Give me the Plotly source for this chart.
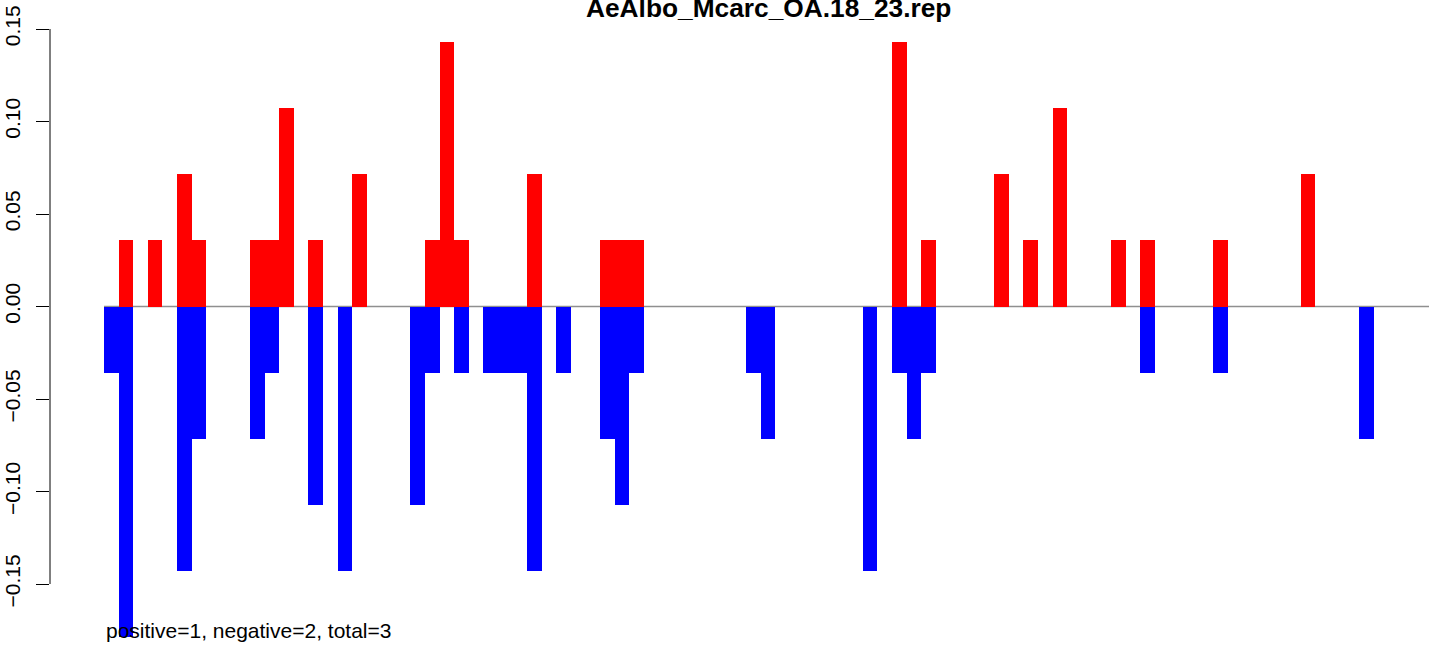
import plotly.graph_objects as go

# ---- data ----
bins = list(range(91))
positive = [
    0, 0.0357, 0, 0.0357, 0, 0.0714, 0.0357, 0, 0, 0,
    0.0357, 0.0357, 0.1071, 0, 0.0357, 0, 0, 0.0714, 0, 0,
    0, 0, 0.0357, 0.1429, 0.0357, 0, 0, 0, 0, 0.0714,
    0, 0, 0, 0, 0.0357, 0.0357, 0.0357, 0, 0, 0,
    0, 0, 0, 0, 0, 0, 0, 0, 0, 0,
    0, 0, 0, 0, 0.1429, 0, 0.0357, 0, 0, 0,
    0, 0.0714, 0, 0.0357, 0, 0.1071, 0, 0, 0, 0.0357,
    0, 0.0357, 0, 0, 0, 0, 0.0357, 0, 0, 0,
    0, 0, 0.0714, 0, 0, 0, 0, 0, 0, 0,
    0,
]
negative = [
    -0.0357, -0.1786, 0, 0, 0, -0.1429, -0.0714, 0, 0, 0,
    -0.0714, -0.0357, 0, 0, -0.1071, 0, -0.1429, 0, 0, 0,
    0, -0.1071, -0.0357, 0, -0.0357, 0, -0.0357, -0.0357, -0.0357, -0.1429,
    0, -0.0357, 0, 0, -0.0714, -0.1071, -0.0357, 0, 0, 0,
    0, 0, 0, 0, -0.0357, -0.0714, 0, 0, 0, 0,
    0, 0, -0.1429, 0, -0.0357, -0.0714, -0.0357, 0, 0, 0,
    0, 0, 0, 0, 0, 0, 0, 0, 0, 0,
    0, -0.0357, 0, 0, 0, 0, -0.0357, 0, 0, 0,
    0, 0, 0, 0, 0, 0, -0.0714, 0, 0, 0,
    0,
]
tick_values = [-0.15, -0.10, -0.05, 0.00, 0.05, 0.10, 0.15]
tick_labels = ["\u22120.15", "\u22120.10", "\u22120.05", "0.00", "0.05", "0.10", "0.15"]
title_text = "AeAlbo_Mcarc_OA.18_23.rep"
footer_text = "positive=1, negative=2, total=3"

FONT = "Liberation Sans, Arial, Helvetica, sans-serif"

fig = go.Figure()
fig.add_trace(go.Bar(x=bins, y=positive, width=1, marker=dict(color="#FF0000", line=dict(width=0)),
                     showlegend=False, hoverinfo="x+y"))
fig.add_trace(go.Bar(x=bins, y=negative, width=1, marker=dict(color="#0000FF", line=dict(width=0)),
                     showlegend=False, hoverinfo="x+y"))

# zero reference line (under bars)
fig.add_shape(type="line", xref="x", yref="y", x0=bins[0] - 0.5, x1=bins[-1] + 0.5, y0=0, y1=0,
              line=dict(color="#8F8F8F", width=1.3), layer="below")
# y axis line spanning first to last tick (R style)
fig.add_shape(type="line", xref="paper", yref="y", x0=0, x1=0,
              y0=min(tick_values), y1=max(tick_values), line=dict(color="black", width=1))

fig.add_annotation(text="<b>" + title_text + "</b>", xref="x", yref="paper",
                   x=(bins[0] + bins[-1]) / 2, y=0.988, xanchor="center", yanchor="middle",
                   showarrow=False, font=dict(family=FONT, size=26.3, color="black"))
fig.add_annotation(text=footer_text, xref="x", yref="paper", x=bins[0] - 0.5, y=0.0223,
                   xanchor="left", yanchor="middle", showarrow=False,
                   font=dict(family=FONT, size=21, color="black"))

fig.update_layout(
    width=1429, height=645,
    margin=dict(l=50, r=0, t=0, b=0, autoexpand=False),
    paper_bgcolor="white", plot_bgcolor="white",
    barmode="overlay", bargap=0,
    showlegend=False,
    xaxis=dict(range=[-4.2, 90.29], visible=False, fixedrange=True, automargin=False),
    yaxis=dict(range=[-0.18297, 0.16568], tickmode="array", tickvals=tick_values, ticktext=tick_labels,
               tickangle=-90, ticks="outside", ticklen=13, tickwidth=1, tickcolor="black",
               showline=False, showgrid=False, zeroline=False, ticklabelstandoff=8,
               automargin=False,
               tickfont=dict(family=FONT, size=21, color="black")),
)

fig.write_html("out.html", config={"displayModeBar": False},
               post_script="document.body.style.margin='0';")
